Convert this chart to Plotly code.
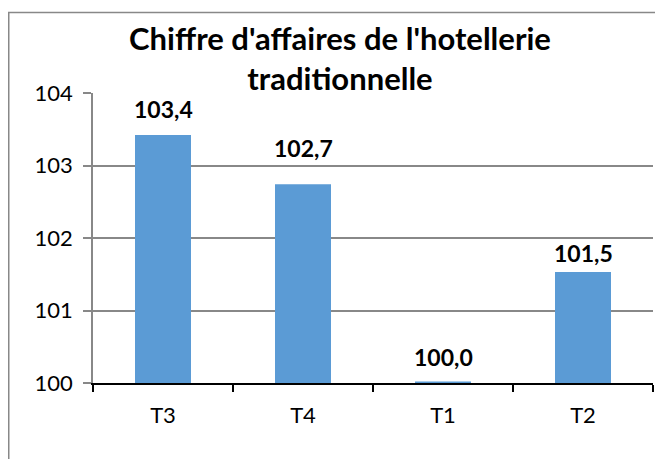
import plotly.graph_objects as go

categories = ["T3", "T4", "T1", "T2"]
values = [103.42, 102.74, 100.02, 101.53]
y_ticks = [100, 101, 102, 103, 104]
title_text = "Chiffre d'affaires de l'hotellerie<br>traditionnelle"

# styling: per-label vertical offsets (px) as in the reference
label_shift = [10, 20, 9, 3]

BAR = "#5B9BD5"
GRID = "#888888"
FONT = "Lato"

# the page has an 8px body margin, so the figure is sized to fit the window
W, H = 655, 451
L, R, T, B = 85, 10, 85, 76
PW, PH = W - L - R, H - T - B

fig = go.Figure()
fig.add_trace(go.Bar(
    x=categories, y=values, base=0,
    marker=dict(color=BAR, line=dict(width=0)),
    width=0.4,
    hoverinfo="skip",
))

annotations = []
for c, v, s in zip(categories, values, label_shift):
    annotations.append(dict(
        x=c, y=v, xref="x", yref="y",
        text=f"{v:.1f}".replace(".", ","),
        showarrow=False, yanchor="bottom", yshift=s,
        font=dict(family=FONT, size=23, color="#000000", weight="bold"),
    ))

fig.update_layout(
    width=W, height=H,
    margin=dict(l=L, r=R, t=T, b=B),
    paper_bgcolor="white", plot_bgcolor="white",
    showlegend=False,
    separators=", ",
    title=dict(
        text=title_text,
        x=(340 - 8) / W, xanchor="center",
        y=1 - 42 / H, yanchor="top", yref="container",
        font=dict(family=FONT, size=31, color="#000000", weight="bold"),
    ),
    annotations=annotations,
    xaxis=dict(
        type="category",
        showline=True, linecolor="#000000", linewidth=1.5,
        ticks="outside", tickson="boundaries", ticklen=7, tickcolor="#000000", tickwidth=1.5,
        tickfont=dict(family=FONT, size=22, color="#000000"),
        ticklabelstandoff=12,
        showgrid=False,
        range=[-0.5, 3.5],
    ),
    yaxis=dict(
        range=[100, 104],
        tickvals=y_ticks,
        ticktext=[str(t) for t in y_ticks],
        showline=True, linecolor=GRID, linewidth=1.5,
        ticks="outside", ticklen=8, tickcolor=GRID, tickwidth=1.5,
        tickfont=dict(family=FONT, size=22, color="#000000"),
        ticklabelstandoff=6,
        showgrid=True, gridcolor=GRID, gridwidth=1.5,
        zeroline=False,
    ),
    shapes=[dict(
        type="rect", xref="paper", yref="paper",
        x0=(0.75 - L) / PW, x1=1.5,
        y0=-1.0, y1=1 + (T - 4.5) / PH,
        line=dict(color=GRID, width=1.5), fillcolor="rgba(0,0,0,0)",
        layer="below",
    )],
)

fig.write_html("out.html")
